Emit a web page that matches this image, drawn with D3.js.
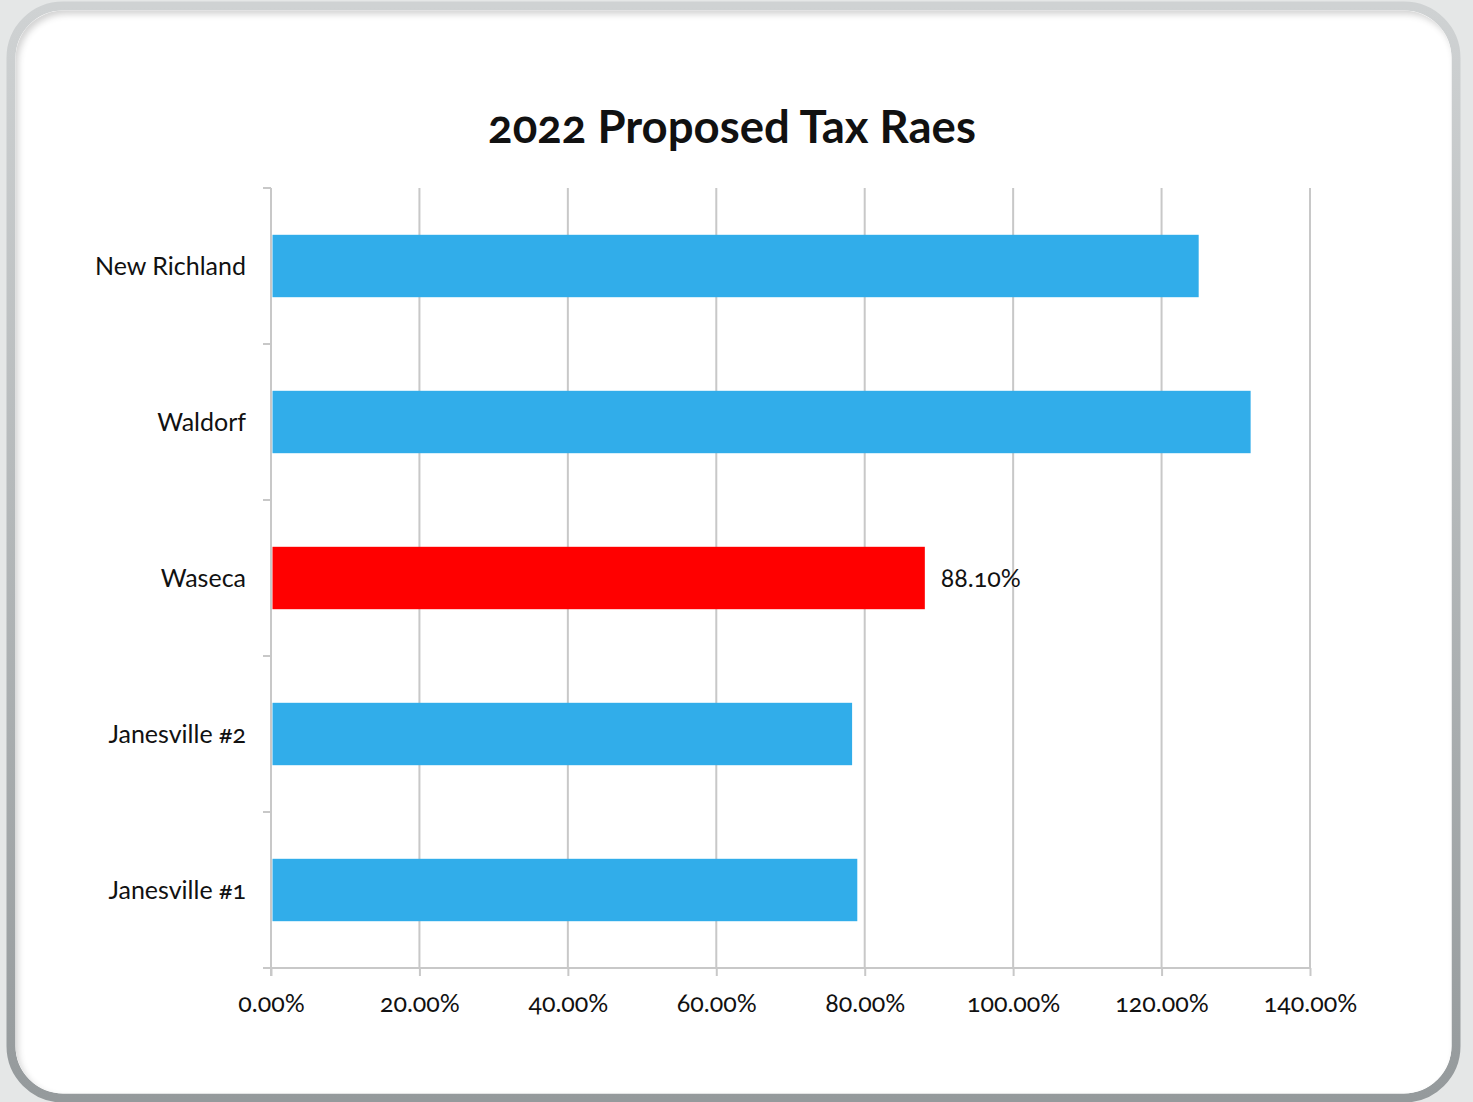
<!DOCTYPE html>
<html>
<head>
<meta charset="utf-8">
<script src="https://cdn.jsdelivr.net/npm/d3@7"></script>
<style>
  html, body { margin: 0; padding: 0; background: #e5e7e7; }
  svg { display: block; }
  text { font-family: Lato, "Open Sans", sans-serif; font-variant-numeric: oldstyle-nums; font-feature-settings: "onum" 1; fill: #111; }
</style>
</head>
<body>
<svg id="chart" width="1473" height="1102"></svg>
<script>
// Chart data
const title = "2022 Proposed Tax Raes";
const categories = ["New Richland", "Waldorf", "Waseca", "Janesville #2", "Janesville #1"];
const values = [1.25, 1.32, 0.881, 0.783, 0.79];
const barColors = ["#31ADEA", "#31ADEA", "#FF0000", "#31ADEA", "#31ADEA"];
const labelledIndex = 2; // only Waseca carries a data label
const xTicks = [0, 0.2, 0.4, 0.6, 0.8, 1.0, 1.2, 1.4];

const W = 1473, H = 1102;
const svg = d3.select("#chart");
const defs = svg.append("defs");

// Frame: grey rounded border with soft inner shadow
const borderGrad = defs.append("linearGradient").attr("id", "borderGrad")
  .attr("x1", 0).attr("y1", 0).attr("x2", 0).attr("y2", 1);
borderGrad.append("stop").attr("offset", "0%").attr("stop-color", "#cfd2d3");
borderGrad.append("stop").attr("offset", "100%").attr("stop-color", "#959a9c");

const shadow = defs.append("filter").attr("id", "innerShadow")
  .attr("x", "-5%").attr("y", "-5%").attr("width", "110%").attr("height", "110%");
shadow.append("feGaussianBlur").attr("in", "SourceAlpha").attr("stdDeviation", 3).attr("result", "blur");
shadow.append("feOffset").attr("dx", 3).attr("dy", 4).attr("result", "off");
shadow.append("feComposite").attr("in", "SourceAlpha").attr("in2", "off").attr("operator", "out").attr("result", "inv");
shadow.append("feFlood").attr("flood-color", "#000").attr("flood-opacity", 0.35);
shadow.append("feComposite").attr("in2", "inv").attr("operator", "in").attr("result", "sh");
shadow.append("feMerge").selectAll("feMergeNode").data(["SourceGraphic", "sh"]).join("feMergeNode").attr("in", d => d);

svg.append("rect").attr("width", W).attr("height", H).attr("fill", "#e5e7e7");
svg.append("rect")
  .attr("x", 11).attr("y", 6).attr("width", 1445).attr("height", 1092)
  .attr("rx", 52).attr("ry", 52)
  .attr("fill", "#ffffff")
  .attr("stroke", "url(#borderGrad)").attr("stroke-width", 9);
svg.append("rect")
  .attr("x", 15.5).attr("y", 10.5).attr("width", 1436).attr("height", 1083)
  .attr("rx", 48).attr("ry", 48)
  .attr("fill", "#ffffff")
  .attr("filter", "url(#innerShadow)");

// Plot area
const plot = { left: 271, right: 1310, top: 188, bottom: 968 };

const x = d3.scaleLinear().domain([0, 1.4]).range([plot.left, plot.right]);
const y = d3.scaleBand().domain(categories).range([plot.top, plot.bottom]).paddingInner(0.6).paddingOuter(0.3);

const g = svg.append("g");

// Vertical gridlines
g.append("g").selectAll("line").data(xTicks.slice(1)).join("line")
  .attr("x1", d => x(d)).attr("x2", d => x(d))
  .attr("y1", plot.top).attr("y2", plot.bottom)
  .attr("stroke", "#c8c8c8").attr("stroke-width", 2);

// Bars
g.append("g").selectAll("rect").data(categories).join("rect")
  .attr("x", x(0) + 1.5)
  .attr("y", d => y(d))
  .attr("width", (d, i) => x(values[i]) - x(0) - 1.5)
  .attr("height", y.bandwidth())
  .attr("fill", (d, i) => barColors[i]);

// X axis
const fmt = d => (d * 100).toFixed(2) + "%";
const xAxis = g.append("g")
  .attr("transform", `translate(0,${plot.bottom})`)
  .call(d3.axisBottom(x).tickValues(xTicks).tickFormat(fmt).tickSize(8).tickPadding(18));
xAxis.select(".domain").attr("stroke", "#c8c8c8").attr("stroke-width", 2)
  .attr("d", `M${plot.left - 8},0H${plot.right}`);
xAxis.selectAll(".tick line").attr("stroke", "#c8c8c8").attr("stroke-width", 2);
xAxis.selectAll(".tick text").attr("font-size", 25).attr("fill", "#111")
  .style("font-family", "Lato, 'Open Sans', sans-serif");

// Y axis with boundary ticks between categories
const yAxisG = g.append("g");
yAxisG.append("line")
  .attr("x1", plot.left).attr("x2", plot.left)
  .attr("y1", plot.top).attr("y2", plot.bottom + 8)
  .attr("stroke", "#c8c8c8").attr("stroke-width", 2);
const boundaries = d3.range(categories.length).map(i => plot.top + i * (plot.bottom - plot.top) / categories.length);
yAxisG.selectAll("line.tk").data(boundaries).join("line").attr("class", "tk")
  .attr("x1", plot.left - 8).attr("x2", plot.left)
  .attr("y1", d => d).attr("y2", d => d)
  .attr("stroke", "#c8c8c8").attr("stroke-width", 2);
yAxisG.selectAll("text").data(categories).join("text")
  .attr("x", plot.left - 25)
  .attr("y", d => y(d) + y.bandwidth() / 2)
  .attr("dy", "0.35em")
  .attr("text-anchor", "end")
  .attr("font-size", 25)
  .text(d => d);

// Data label
g.append("text")
  .attr("x", x(values[labelledIndex]) + 16)
  .attr("y", y(categories[labelledIndex]) + y.bandwidth() / 2)
  .attr("dy", "0.35em")
  .attr("font-size", 25)
  .text(fmt(values[labelledIndex]));

// Title
svg.append("text")
  .attr("x", 732).attr("y", 143)
  .attr("text-anchor", "middle")
  .attr("font-size", 45.5).attr("font-weight", "bold")
  .text(title);
</script>
</body>
</html>
